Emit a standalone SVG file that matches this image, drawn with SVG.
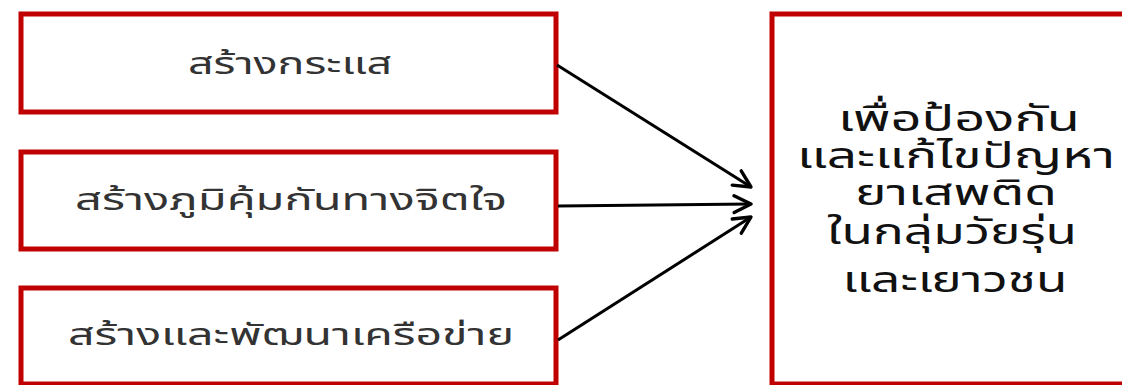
<svg xmlns="http://www.w3.org/2000/svg" width="1122" height="385" viewBox="0 0 1122 385">
  <defs>
    <style>
      .box { fill: #ffffff; stroke: #c00000; stroke-width: 5; }
      .lbl { font-family: "Noto Sans Thai", "Noto Sans", "DejaVu Sans", sans-serif; fill: #333333; font-size: 30px; text-anchor: middle; }
      .goal { font-family: "Noto Sans Thai", "Noto Sans", "DejaVu Sans", sans-serif; fill: #111111; font-size: 35px; text-anchor: middle; }
      .conn { stroke: #000000; stroke-width: 3; fill: none; marker-end: url(#arrow); }
    </style>
    <marker id="arrow" viewBox="0 0 12 12" refX="11" refY="6" markerWidth="7.5" markerHeight="7.5" markerUnits="strokeWidth" orient="auto">
      <path d="M2,1.5 L11,6 L2,10.5" fill="none" stroke="#000000" stroke-width="1.8" stroke-linecap="round" stroke-linejoin="round"/>
    </marker>
  </defs>

  <rect width="1122" height="385" fill="#ffffff"/>

  <g id="node-trend">
    <rect class="box" x="21" y="14" width="535" height="98"/>
    <text class="lbl" x="290" y="74" textLength="204" lengthAdjust="spacingAndGlyphs">สร้างกระแส</text>
  </g>

  <g id="node-immunity">
    <rect class="box" x="21" y="152" width="535" height="97"/>
    <text class="lbl" x="291" y="210" textLength="432" lengthAdjust="spacingAndGlyphs">สร้างภูมิคุ้มกันทางจิตใจ</text>
  </g>

  <g id="node-network">
    <rect class="box" x="21" y="288" width="535" height="96"/>
    <text class="lbl" x="291" y="345" textLength="446" lengthAdjust="spacingAndGlyphs">สร้างและพัฒนาเครือข่าย</text>
  </g>

  <g id="node-goal">
    <rect class="box" x="772" y="14" width="360" height="370"/>
    <text class="goal" x="959" y="131" textLength="242" lengthAdjust="spacingAndGlyphs">เพื่อป้องกัน</text>
    <text class="goal" x="956" y="168" textLength="318" lengthAdjust="spacingAndGlyphs">และแก้ไขปัญหา</text>
    <text class="goal" x="956" y="205" textLength="202" lengthAdjust="spacingAndGlyphs">ยาเสพติด</text>
    <text class="goal" x="952" y="244" textLength="250" lengthAdjust="spacingAndGlyphs">ในกลุ่มวัยรุ่น</text>
    <text class="goal" x="955" y="292" textLength="225" lengthAdjust="spacingAndGlyphs">และเยาวชน</text>
  </g>

  <g id="connectors">
    <line class="conn" x1="557" y1="65" x2="751" y2="187"/>
    <line class="conn" x1="558" y1="206" x2="751" y2="204"/>
    <line class="conn" x1="558" y1="340" x2="751" y2="217"/>
  </g>
</svg>
